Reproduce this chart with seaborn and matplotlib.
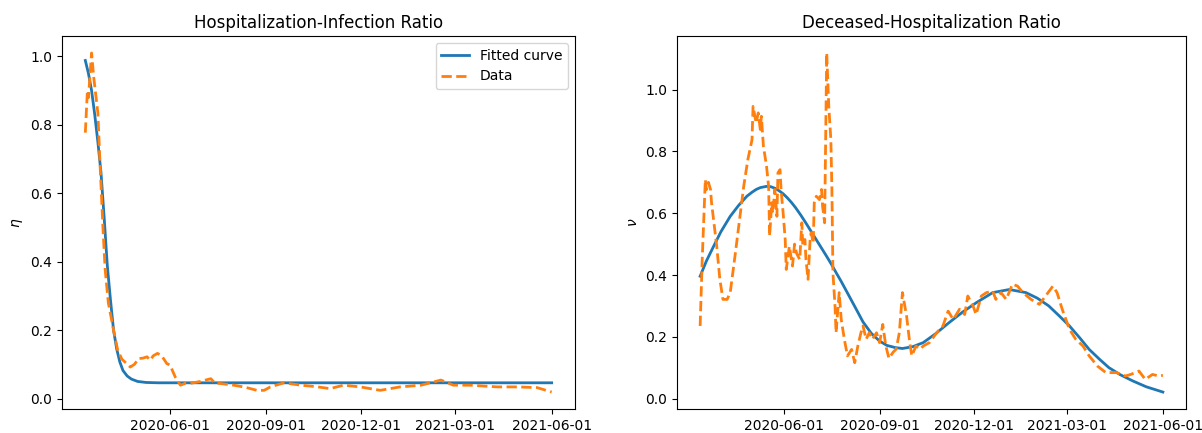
import matplotlib
matplotlib.use("Agg")
import matplotlib.pyplot as plt
import matplotlib.dates as mdates
import seaborn as sns
import pandas as pd

start_date = "2020-03-12"
tick_dates = ["2020-06-01", "2020-09-01", "2020-12-01", "2021-03-01", "2021-06-01"]

# Left panel: hospitalization-infection ratio
eta_fit_days = [0, 3, 6, 9, 12, 15, 18, 21, 24, 27, 30, 33, 36, 40, 44, 50, 58, 70, 120, 200, 300, 400, 446]
eta_fit_vals = [0.988, 0.95, 0.90, 0.83, 0.75, 0.66, 0.53, 0.39, 0.29, 0.20, 0.145, 0.107, 0.082,
                0.066, 0.057, 0.050, 0.047, 0.046, 0.046, 0.046, 0.046, 0.046, 0.046]

eta_data_days = [0, 2, 3, 6, 8, 12, 14, 17, 19, 22, 27, 31, 35, 43, 47, 51, 55, 59, 62, 65, 69, 73,
                 78, 81, 86, 91, 96, 100, 110, 120, 124, 129, 142, 153, 164, 171, 177, 190, 206,
                 220, 234, 247, 263, 282, 301, 321, 330, 340, 352, 368, 394, 413, 432, 446]
eta_data_vals = [0.777, 0.90, 0.88, 1.01, 0.94, 0.835, 0.69, 0.49, 0.376, 0.28, 0.20, 0.141, 0.115,
                 0.092, 0.10, 0.117, 0.118, 0.122, 0.112, 0.125, 0.132, 0.125, 0.102, 0.098, 0.063,
                 0.039, 0.045, 0.044, 0.050, 0.058, 0.045, 0.044, 0.039, 0.033, 0.024, 0.024, 0.034,
                 0.046, 0.039, 0.035, 0.029, 0.039, 0.034, 0.024, 0.034, 0.039, 0.046, 0.054, 0.039,
                 0.039, 0.034, 0.034, 0.032, 0.019]

# Right panel: deceased-hospitalization ratio
nu_fit_days = [0, 6, 13, 20, 29, 37, 45, 50, 54, 58, 64, 68, 72, 76, 80, 84, 88, 92, 97, 102, 107,
               112, 117, 122, 127, 131, 136, 141, 150, 157, 165, 173, 180, 188, 195, 205, 215, 227,
               240, 253, 266, 282, 298, 314, 325, 336, 346, 356, 366, 375, 385, 394, 405, 417, 430, 446]
nu_fit_vals = [0.396, 0.445, 0.493, 0.54, 0.59, 0.625, 0.655, 0.668, 0.677, 0.683, 0.687, 0.686,
               0.681, 0.673, 0.663, 0.650, 0.635, 0.618, 0.594, 0.568, 0.541, 0.514, 0.487, 0.460,
               0.432, 0.408, 0.379, 0.348, 0.292, 0.248, 0.211, 0.186, 0.172, 0.165, 0.162, 0.168,
               0.181, 0.21, 0.246, 0.28, 0.31, 0.343, 0.353, 0.343, 0.325, 0.30, 0.268, 0.235,
               0.196, 0.159, 0.127, 0.10, 0.077, 0.057, 0.038, 0.021]

nu_data_days = [0, 2, 5, 6, 8, 10, 11, 16, 19, 22, 26, 29, 34, 38, 42, 46, 50, 51, 54, 56, 58, 59, 61,
                64, 66, 67, 69, 70, 72, 74, 75, 77, 78, 80, 82, 83, 86, 88, 89, 91, 93, 96, 98, 99,
                101, 102, 104, 106, 107, 109, 110, 112, 115, 117, 118, 120, 121, 122, 124, 126, 127,
                128, 130, 131, 134, 136, 139, 142, 146, 149, 152, 155, 157, 160, 163, 166, 170, 173,
                176, 179, 182, 186, 189, 192, 195, 199, 202, 204, 208, 212, 215, 221, 228, 234, 239,
                244, 250, 255, 258, 263, 266, 271, 276, 282, 285, 290, 295, 301, 306, 311, 319, 327,
                333, 340, 344, 349, 356, 362, 369, 375, 383, 391, 401, 410, 415, 423, 429, 436, 442, 446]
nu_data_vals = [0.235, 0.45, 0.709, 0.677, 0.70, 0.677, 0.634, 0.493, 0.386, 0.321, 0.321, 0.343,
                0.472, 0.58, 0.687, 0.774, 0.838, 0.946, 0.892, 0.925, 0.871, 0.914, 0.817, 0.752,
                0.687, 0.526, 0.634, 0.601, 0.677, 0.59, 0.731, 0.741, 0.677, 0.601, 0.515, 0.418,
                0.493, 0.45, 0.429, 0.50, 0.47, 0.45, 0.569, 0.493, 0.515, 0.45, 0.386, 0.515, 0.537,
                0.504, 0.634, 0.655, 0.644, 0.677, 0.623, 0.569, 0.838, 1.119, 0.946, 0.838, 0.677,
                0.407, 0.30, 0.213, 0.343, 0.256, 0.192, 0.138, 0.159, 0.116, 0.17, 0.213, 0.235,
                0.192, 0.213, 0.192, 0.213, 0.181, 0.240, 0.17, 0.13, 0.15, 0.16, 0.213, 0.343, 0.267,
                0.181, 0.138, 0.17, 0.16, 0.17, 0.181, 0.213, 0.235, 0.283, 0.256, 0.289, 0.272,
                0.332, 0.30, 0.272, 0.332, 0.343, 0.348, 0.321, 0.343, 0.321, 0.37, 0.364, 0.343,
                0.321, 0.305, 0.332, 0.364, 0.343, 0.289, 0.224, 0.192, 0.17, 0.138, 0.105, 0.084,
                0.084, 0.073, 0.078, 0.089, 0.062, 0.078, 0.073, 0.075]

titles = ["Hospitalization-Infection Ratio", "Deceased-Hospitalization Ratio"]
ylabels = [r"$\eta$", r"$\nu$"]


def to_dates(days):
    return pd.to_datetime(start_date) + pd.to_timedelta(days, unit="D")


fig = plt.figure(figsize=(12.02, 4.33), dpi=100)
ax1 = fig.add_axes([62 / 1202, 24 / 433, 513 / 1202, 373 / 433])
ax2 = fig.add_axes([677 / 1202, 24 / 433, 509 / 1202, 373 / 433])

blue = "#1f77b4"
orange = "#ff7f0e"

panels = [
    (ax1, eta_fit_days, eta_fit_vals, eta_data_days, eta_data_vals),
    (ax2, nu_fit_days, nu_fit_vals, nu_data_days, nu_data_vals),
]

for i, (ax, fd, fv, dd, dv) in enumerate(panels):
    sns.lineplot(x=to_dates(fd), y=fv, ax=ax, color=blue, linewidth=2,
                 label="Fitted curve" if i == 0 else None)
    sns.lineplot(x=to_dates(dd), y=dv, ax=ax, color=orange, linewidth=2, linestyle="--",
                 label="Data" if i == 0 else None)
    ax.set_title(titles[i], fontsize=12)
    ax.set_ylabel(ylabels[i])
    ax.set_xlabel("")
    ax.set_xticks(pd.to_datetime(tick_dates))
    ax.xaxis.set_major_formatter(mdates.DateFormatter("%Y-%m-%d"))
    if i == 0:
        ax.legend(loc="upper right")
    else:
        leg = ax.get_legend()
        if leg is not None:
            leg.remove()

fig.savefig("out.png", dpi=100)
